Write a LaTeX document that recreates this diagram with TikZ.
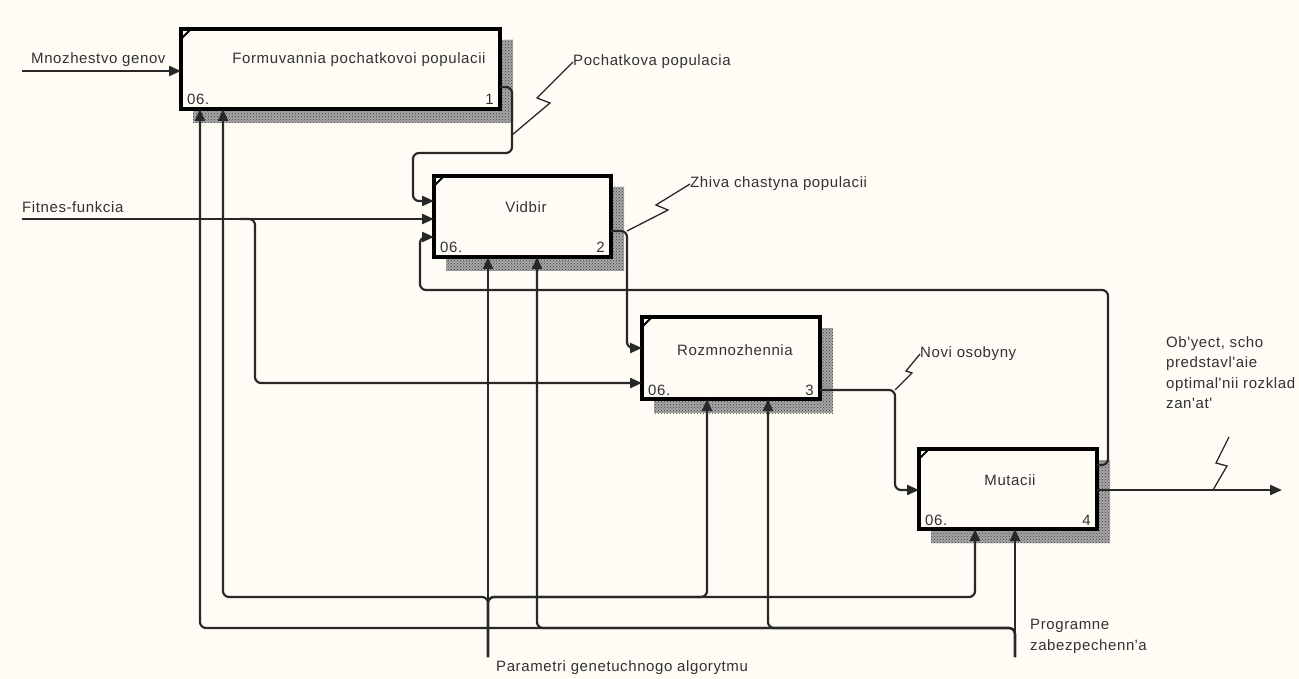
\documentclass[tikz,border=0pt]{standalone}
\usepackage{fontspec}
\newfontfamily\lblfont[LetterSpace=4]{Liberation Sans}
\usetikzlibrary{arrows.meta,patterns,calc}
\pgfdeclarelayer{back}
\pgfdeclarelayer{shade}
\pgfsetlayers{back,shade,main}
\definecolor{bgc}{RGB}{254,252,244}
\definecolor{lnc}{RGB}{40,40,40}
\definecolor{txc}{RGB}{50,50,50}
\tikzset{
  fnbox/.style={draw=black, line width=3.2pt, fill=bgc, inner sep=0pt, outer sep=0pt},
  shadowbox/.style={fill=black!35},
  shadowpat/.style={pattern=crosshatch dots, pattern color=black!75},
  conn/.style={draw=lnc, line width=2.2pt, rounded corners=6pt},
  tipped/.style={-{Triangle[length=12pt,width=10pt]}},
  squig/.style={draw=lnc, line width=1.3pt},
  lbl/.style={font=\lblfont\fontsize{15}{20.5}\selectfont, text=txc, inner sep=0pt},
  ttl/.style={lbl},
  numl/.style={lbl},
  ctick/.style={draw=black, line width=2pt}
}
\begin{document}
\begin{tikzpicture}[x=1pt,y=-1pt]
\begin{pgfonlayer}{back}
\fill[bgc] (0,0) rectangle (1299,679);
\end{pgfonlayer}
\useasboundingbox (0,0) rectangle (1299,679);

% boxes
\node[fnbox, minimum width=319pt, minimum height=80pt] (b1) at (340.5,69) {};
\node[fnbox, minimum width=177pt, minimum height=81pt] (b2) at (522.5,216.5) {};
\node[fnbox, minimum width=178pt, minimum height=82pt] (b3) at (731,358) {};
\node[fnbox, minimum width=178pt, minimum height=80pt] (b4) at (1008,489) {};

% shadows
\begin{pgfonlayer}{shade}
\foreach \b in {b1,b2,b3,b4}{
  \fill[shadowbox] ($(\b.north west)+(12,11)$) rectangle ($(\b.south east)+(13,14)$);
  \fill[shadowpat] ($(\b.north west)+(12,11)$) rectangle ($(\b.south east)+(13,14)$);
}
\end{pgfonlayer}

% corner ticks
\foreach \b in {b1,b2,b3,b4}{
  \draw[ctick] ($(\b.north west)+(0,10)$) -- ($(\b.north west)+(10,0)$);
}

% titles and numbers
\node[ttl] (t1) at (359,60) {Formuvannia pochatkovoi populacii};
\node[ttl] (t2) at (526,207) {Vidbir};
\node[ttl] (t3) at (735,350) {Rozmnozhennia};
\node[ttl] (t4) at (1010,480) {Mutacii};
\foreach \b/\n in {b1/1,b2/2,b3/3,b4/4}{
  \node[numl, anchor=base west] (o\b) at ($(\b.south west)+(6,-4)$) {06.};
  \node[numl, anchor=base east] (n\b) at ($(\b.south east)+(-6,-4)$) {\n};
}

% free ends
\coordinate (i1) at (22,71);
\coordinate (i2) at (22,219);
\coordinate (o4) at (1282,490);
\coordinate (c1) at (488,657);
\coordinate (c2) at (1015,657);

% inputs
\draw[conn,tipped] (i1) -- (i1 -| b1.west);
\draw[conn,tipped] (i2) -- (i2 -| b2.west);
\draw[conn,tipped] (240,219) -- (255,219) -- (255,383) -- (b3.west |- 0,383);

% outputs
\draw[conn,tipped] (b1.east |- 0,87) -- (512,87) -- (512,153) -- (413,153) -- (413,201) -- (b2.west |- 0,201);
\draw[conn,tipped] (b2.east |- 0,231) -- (627,231) -- (627,348) -- (b3.west |- 0,348);
\draw[conn,tipped] (b3.east |- 0,390) -- (895,390) -- (895,490) -- (b4.west |- 0,490);
\draw[conn,tipped] (b4.east |- 0,465) -- (1108,465) -- (1108,290) -- (420,290) -- (420,237) -- (b2.west |- 0,237);
\draw[conn,tipped] (b4.east |- 0,490) -- (o4);

% controls: Parametri
\draw[conn,tipped] (c1) -- (c1 |- b2.south);
\draw[conn,tipped] (c1) -- (488,597) -- (223,597) -- (223,0 |- b1.south);
\draw[conn,tipped] (c1) -- (488,597) -- (707,597) -- (707,0 |- b3.south);
\draw[conn,tipped] (c1) -- (488,597) -- (975,597) -- (975,0 |- b4.south);

% controls: Programne
\draw[conn,tipped] (c2) -- (c2 |- b4.south);
\draw[conn,tipped] (c2) -- (1015,628) -- (200,628) -- (200,0 |- b1.south);
\draw[conn,tipped] (c2) -- (1015,628) -- (537,628) -- (537,0 |- b2.south);
\draw[conn,tipped] (c2) -- (1015,628) -- (768,628) -- (768,0 |- b3.south);

% labels
\node[lbl, anchor=west] (l1) at (31,60) {Mnozhestvo genov};
\node[lbl, anchor=west] (l2) at (22,207) {Fitnes-funkcia};
\node[lbl, anchor=west] (l3) at (573,62) {Pochatkova populacia};
\node[lbl, anchor=west] (l4) at (690,184) {Zhiva chastyna populacii};
\node[lbl, anchor=west] (l5) at (920,354) {Novi osobyny};
\node[lbl, anchor=north west, align=left] (l6) at (1166,336) {Ob'yect, scho\\predstavl'aie\\optimal'nii rozklad\\zan'at'};
\node[lbl, anchor=north west, align=left] (l7) at (1030,619) {Programne\\zabezpechenn'a};
\node[lbl, anchor=west] (l8) at (496,668) {Parametri genetuchnogo algorytmu};

% squiggles
\coordinate (s1) at (512,135);
\coordinate (s2) at (627,231);
\coordinate (s3) at (895,390);
\coordinate (s4) at (1213,490);
\draw[squig] (s1) -- (550,103) -- (537,98) -- (l3.west);
\draw[squig] (s2) -- (668,210) -- (656,205) -- (l4.west);
\draw[squig] (s3) -- (912,373) -- (906,371) -- (l5.west);
\draw[squig] (s4) -- (1227,466) -- (1216,463) -- (1229,437);
\end{tikzpicture}
\end{document}
